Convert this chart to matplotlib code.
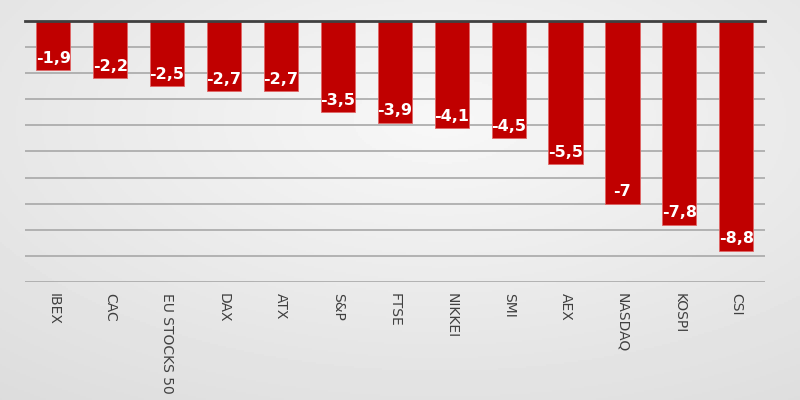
import numpy as np
import matplotlib
matplotlib.use('Agg')
from matplotlib import pyplot as plt

indices = ['IBEX', 'CAC', 'EU STOCKS 50', 'DAX', 'ATX', 'S&P', 'FTSE',
           'NIKKEI', 'SMI', 'AEX', 'NASDAQ', 'KOSPI', 'CSI']
changes = [-1.9, -2.2, -2.5, -2.7, -2.7, -3.5, -3.9, -4.1, -4.5, -5.5, -7, -7.8, -8.8]
labels = ['-1,9', '-2,2', '-2,5', '-2,7', '-2,7', '-3,5', '-3,9',
          '-4,1', '-4,5', '-5,5', '-7', '-7,8', '-8,8']

fig = plt.figure(figsize=(8, 4), dpi=100)

# soft grey gradient background
bg = fig.add_axes([0, 0, 1, 1], zorder=-1)
yy, xx = np.mgrid[0:1:200j, 0:1:400j]
shade = 0.97 - 0.12 * np.sqrt((xx - 0.55) ** 2 + (yy - 0.3) ** 2)
bg.imshow(shade, cmap='gray', vmin=0, vmax=1, aspect='auto', extent=[0, 1, 0, 1])
bg.axis('off')

ax = fig.add_axes([0.031, 0.295, 0.925, 0.653])
ax.patch.set_alpha(0)
x = np.arange(len(indices))
ax.bar(x, changes, width=0.6, color='#C00000', edgecolor='#E06666', linewidth=0.6, zorder=3)
for xi, v, lab in zip(x, changes, labels):
    ax.text(xi, v + 0.45, lab, ha='center', va='center', color='white',
            fontsize=11.5, fontweight='bold', zorder=4)

ax.set_ylim(-10, 0)
ax.set_xlim(-0.5, len(indices) - 0.5)
ax.set_yticks(np.arange(-10, 0, 1))
ax.yaxis.grid(True, color='#a8a8a8', linewidth=1.2, zorder=0)
ax.tick_params(axis='y', left=False, labelleft=False)
ax.tick_params(axis='x', length=0, pad=8)
ax.set_xticks(x)
ax.set_xticklabels(indices, rotation=270, va='top', fontsize=10,
                   family='Liberation Sans Narrow', color='#404040')
for s in ['left', 'right', 'bottom']:
    ax.spines[s].set_visible(False)
ax.spines['top'].set_color('#404040')
ax.spines['top'].set_linewidth(2)
ax.spines['top'].set_zorder(5)

fig.savefig('out.png', dpi=100)
